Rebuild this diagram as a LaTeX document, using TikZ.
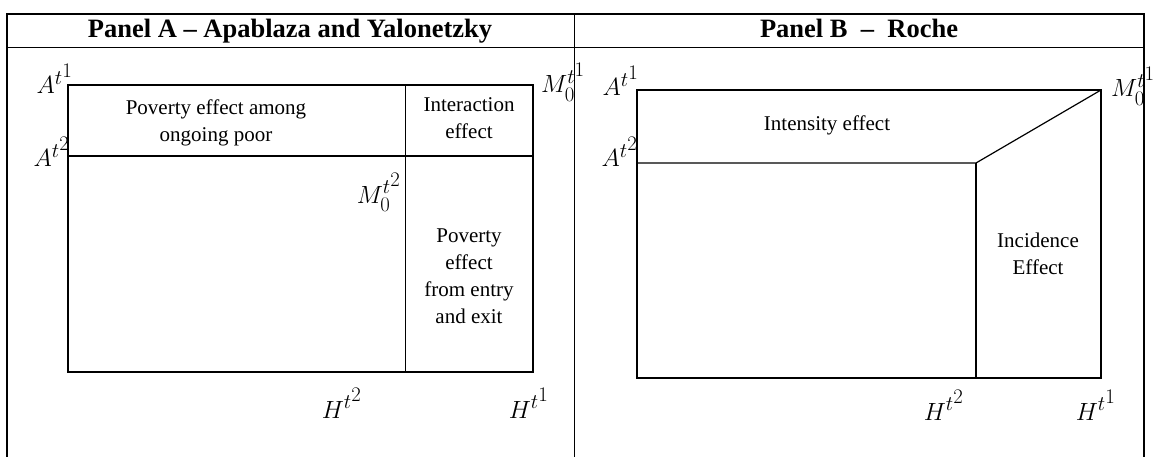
\documentclass[tikz,border=0pt]{standalone}
\usepackage{fontspec}
\setmainfont{Liberation Serif}
\usepackage{amsmath}
\usetikzlibrary{positioning}

\newcommand{\tsup}[1]{t^{\scriptstyle #1}}

\begin{document}
\begin{tikzpicture}[x=1pt,y=-1pt,
    ttl/.style={font=\fontsize{26.5}{28}\selectfont\bfseries, inner sep=0pt, anchor=base},
    txt/.style={font=\fontsize{21}{27}\selectfont, align=center, inner sep=0pt},
    lbl/.style={font=\fontsize{29}{29}\selectfont, inner sep=0pt}]
    \useasboundingbox (0,0) rectangle (1158,457);

    % Table frame
    \draw[line width=1.5pt] (7,457) -- (7,14) -- (1144,14) -- (1144,457);
    \draw[line width=1.5pt] (7,47.5) -- (1144,47.5);
    \draw[line width=1.5pt] (574.5,14) -- (574.5,457);
    \node[ttl] (titleA) at (290,38) {Panel A -- Apablaza and Yalonetzky};
    \node[ttl] (titleB) at (859,38) {Panel B \ -- \ Roche};

    % Panel A
    \draw[line width=1.2pt] (68,85) rectangle (533,372);
    \draw[line width=1.2pt] (68,156) -- (533,156);
    \draw[line width=1.2pt] (405.5,85) -- (405.5,372);
    \node[txt] (ongoing) at (216,123) {Poverty effect among\\ongoing poor};
    \node[txt] (interact) at (469,118) {Interaction\\effect};
    \node[txt] (entry) at (469,276) {Poverty\\effect\\from entry\\and exit};
    \node[lbl, anchor=base east] (At1A) at (73,94) {$A^{\tsup1}$};
    \node[lbl, anchor=base east] (At2A) at (70,167) {$A^{\tsup2}$};
    \node[lbl, anchor=base west] (M1A) at (541,93) {$M_0^{\tsup1}$};
    \node[lbl, anchor=base east] (M2A) at (401,203) {$M_0^{\tsup2}$};
    \node[lbl, anchor=base east] (H2A) at (362,418) {$H^{\tsup2}$};
    \node[lbl, anchor=base east] (H1A) at (549,418) {$H^{\tsup1}$};

    % Panel B
    \draw[line width=1.2pt] (637,90) rectangle (1101,378);
    \draw[line width=1.2pt] (637,163) -- (976,163) -- (1101,90);
    \draw[line width=1.2pt] (976,163) -- (976,378);
    \node[txt] (intensity) at (827,125) {Intensity effect};
    \node[txt] (incidence) at (1038,254) {Incidence\\Effect};
    \node[lbl, anchor=base east] (At1B) at (639,96) {$A^{\tsup1}$};
    \node[lbl, anchor=base east] (At2B) at (638,167) {$A^{\tsup2}$};
    \node[lbl, anchor=base west] (M1B) at (1111,97) {$M_0^{\tsup1}$};
    \node[lbl, anchor=base east] (H2B) at (964,420) {$H^{\tsup2}$};
    \node[lbl, anchor=base east] (H1B) at (1116,420) {$H^{\tsup1}$};
\end{tikzpicture}
\end{document}
